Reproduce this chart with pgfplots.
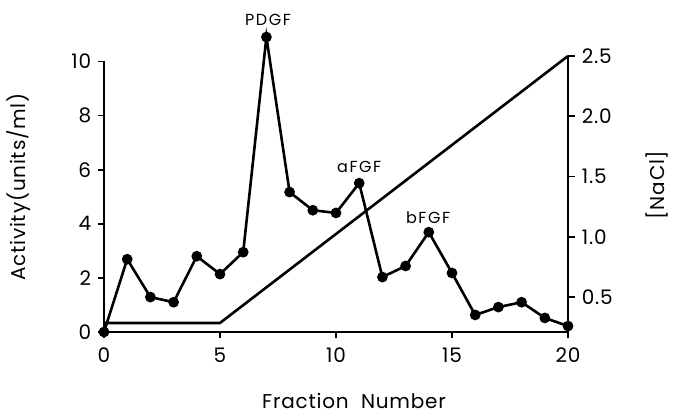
\documentclass[border=0pt]{standalone}
\usepackage{fontspec}
\setmainfont[LetterSpace=4]{Poppins}
\newfontfamily\peakfont[LetterSpace=10]{Poppins}
\usepackage{pgfplots}
\pgfplotsset{compat=1.18}
\begin{document}
\fontsize{20}{24}\selectfont
\begin{tikzpicture}
\useasboundingbox (-104pt,-85pt) rectangle (575pt,332pt);
% activity (left axis)
\begin{axis}[
  at={(0,0)}, anchor=south west,
  width=464pt, height=276pt, scale only axis,
  xmin=0, xmax=20, ymin=0, ymax=10.2,
  axis x line=bottom, axis y line=left,
  axis line style={-, line width=2pt},
  y axis line style={draw=none},
  xtick={0,5,...,20}, ytick={0,2,...,10},
  tick align=outside, major tick length=6pt,
  tick style={line width=1.8pt, black},
  /pgf/number format/assume math mode=true,
  ticklabel style={font=\fontsize{20}{24}\selectfont},
  xticklabel style={yshift=-3pt},
  clip=false,
]
\draw[line width=2pt] (axis cs:0,0) -- (axis cs:0,10);
\addplot[black, line width=2.6pt, mark=*, mark size=4pt] coordinates {
  (0,0) (1,2.69) (2,1.29) (3,1.1) (4,2.8) (5,2.14) (6,2.95) (7,10.9)
  (8,5.17) (9,4.5) (10,4.4) (11,5.5) (12,2.03) (13,2.44) (14,3.69)
  (15,2.18) (16,0.63) (17,0.92) (18,1.1) (19,0.52) (20,0.22)
};
\node[font=\peakfont\fontsize{16}{18}\selectfont] at (axis cs:7.07,11.53) {PDGF};
\node[font=\peakfont\fontsize{16}{18}\selectfont] at (axis cs:11.0,6.09) {aFGF};
\node[font=\peakfont\fontsize{16}{18}\selectfont] at (axis cs:13.97,4.24) {bFGF};
\end{axis}
% NaCl gradient (right axis)
\begin{axis}[
  at={(0,0)}, anchor=south west,
  width=464pt, height=276pt, scale only axis,
  xmin=0, xmax=20, ymin=0.21, ymax=2.5,
  axis x line=none, axis y line=right,
  axis line style={-, line width=2pt},
  ytick={0.5,1,...,2.5},
  tick align=outside, major tick length=7pt,
  tick style={line width=1.8pt, black},
  /pgf/number format/assume math mode=true,
  yticklabel style={font=\fontsize{20}{24}\selectfont,
    /pgf/number format/.cd, fixed, fixed zerofill, precision=1},
  clip=false,
]
\addplot[black, line width=2.6pt] coordinates {(0,0.285) (5,0.285) (20,2.5)};
\end{axis}
\node[rotate=90] at (-85pt,145pt) {Activity(units/ml)};
\node[rotate=90] at (553pt,147pt) {[NaCl]};
\node at (250pt,-69pt) {Fraction\ \ Number};
\end{tikzpicture}
\end{document}
